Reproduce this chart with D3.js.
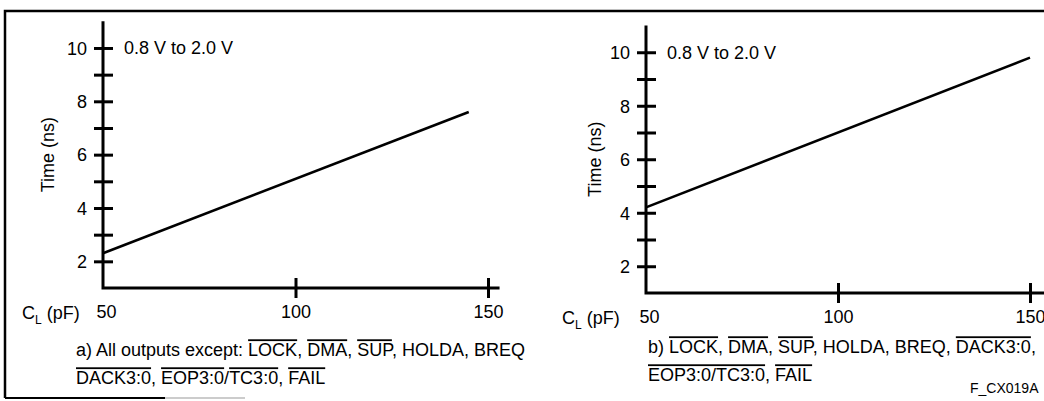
<!doctype html>
<html>
<head>
<meta charset="utf8">
<style>
  body { margin: 0; background: #fff; }
  svg text { font-family: "Liberation Sans", Arial, Helvetica, sans-serif; fill: #000; }
  .ovl { text-decoration: overline; }
</style>
<script src="https://d3js.org/d3.v7.min.js"></script>
</head>
<body>
<svg width="1044" height="401"></svg>
<script>
// data
var capA = [50, 145],  timeA = [2.3, 7.6];
var capB = [50, 150],  timeB = [4.2, 9.8];
var xTicks = [50, 100, 150];
var yTicks = [2, 3, 4, 5, 6, 7, 8, 9, 10];
var yLabels = [2, 4, 6, 8, 10];
var rangeNote = "0.8 V to 2.0 V";

var svg = d3.select("svg");
var fs = 18;

// scanned frame
svg.append("path").attr("d", "M5,398 V11 H1044").attr("fill", "none")
   .attr("stroke", "#000").attr("stroke-width", 2.5);
svg.append("line").attr("x1", 5).attr("x2", 165).attr("y1", 398).attr("y2", 398)
   .attr("stroke", "#000").attr("stroke-width", 2);
svg.append("line").attr("x1", 165).attr("x2", 245).attr("y1", 398).attr("y2", 398)
   .attr("stroke", "#bbb").attr("stroke-width", 1.5);

function panel(p) {
    var x = d3.scaleLinear().domain([50, 150]).range(p.xr),
        y = d3.scaleLinear().domain([1, 11]).range(p.yr);
    var g = svg.append("g");

    // axis lines
    g.append("path")
     .attr("d", "M" + x(50) + "," + y(11) + "V" + y(1) + "H" + x(p.xEnd))
     .attr("fill", "none").attr("stroke", "#000").attr("stroke-width", 3);

    var ya = g.append("g").attr("transform", "translate(" + x(50) + ",0)")
      .call(d3.axisLeft(y).tickValues(yTicks).tickSize(0).tickPadding(16)
            .tickFormat(function(d) { return yLabels.indexOf(d) >= 0 ? d : ""; }));
    ya.select(".domain").remove();
    ya.selectAll("line").attr("x1", -9).attr("x2", 10).attr("stroke-width", 3);
    ya.selectAll("text").attr("font-size", fs).attr("font-family", null).attr("dy", "0.35em");

    var xa = g.append("g").attr("transform", "translate(0," + y(1) + ")")
      .call(d3.axisBottom(x).tickValues(xTicks).tickSize(0).tickPadding(17));
    xa.select(".domain").remove();
    xa.selectAll("line").attr("y1", -10).attr("y2", 10).attr("stroke-width", 3)
      .filter(function(d) { return d === 50; }).remove();
    xa.selectAll("text").attr("font-size", fs).attr("font-family", null)
      .attr("dy", "0.71em")
      .attr("dx", function(d) { return d === 50 ? 3 : 0; });

    g.append("text").attr("x", x(50) + 21).attr("y", y(10)).attr("dy", "0.35em")
     .attr("font-size", fs).text(rangeNote);

    g.append("text").attr("transform", "translate(" + p.titleX + "," + (y(1) + y(11)) / 2 + ") rotate(-90)")
     .attr("text-anchor", "middle").attr("dy", "0.35em").attr("font-size", fs).text("Time (ns)");

    var cl = g.append("text").attr("x", p.clX).attr("y", y(1) + 25).attr("dy", "0.35em")
     .attr("font-size", fs);
    cl.append("tspan").text("C");
    cl.append("tspan").attr("font-size", 12).attr("dy", 5).text("L");
    cl.append("tspan").attr("dy", -5).text(" (pF)");

    g.append("path")
     .datum(d3.zip(p.cap, p.time))
     .attr("fill", "none").attr("stroke", "#000").attr("stroke-width", 2.6)
     .attr("d", d3.line().x(function(d) { return x(d[0]); }).y(function(d) { return y(d[1]); }));

    p.caption.forEach(function(line, i) {
        var t = g.append("text").attr("x", x(50) + p.capDx).attr("y", p.capY + i * 28)
                 .attr("dy", "0.35em").attr("font-size", fs);
        line.forEach(function(s) {
            var ts = t.append("tspan").text(s[0]);
            if (s[1]) ts.attr("class", "ovl");
        });
    });
}

panel({
    xr: [103, 488], yr: [288, 21.3], xEnd: 153, titleX: 48, clX: 22,
    cap: capA, time: timeA, capDx: -27, capY: 350,
    caption: [
        [["a) All outputs except: "], ["LOCK", 1], [", "], ["DMA", 1], [", "], ["SUP", 1], [", HOLDA, BREQ"]],
        [["DACK3:0", 1], [", "], ["EOP3:0", 1], ["/"], ["TC3:0", 1], [", "], ["FAIL", 1]]
    ]
});

panel({
    xr: [646, 1030], yr: [293, 25.5], xEnd: 160, titleX: 595, clX: 562,
    cap: capB, time: timeB, capDx: 2, capY: 347,
    caption: [
        [["b) "], ["LOCK", 1], [", "], ["DMA", 1], [", "], ["SUP", 1], [", HOLDA, BREQ, "], ["DACK3:0", 1], [","]],
        [["EOP3:0/TC3:0", 1], [", "], ["FAIL", 1]]
    ]
});

svg.append("text").attr("x", 970).attr("y", 388).attr("dy", "0.35em")
   .attr("font-size", 14).text("F_CX019A");
</script>
</body>
</html>
